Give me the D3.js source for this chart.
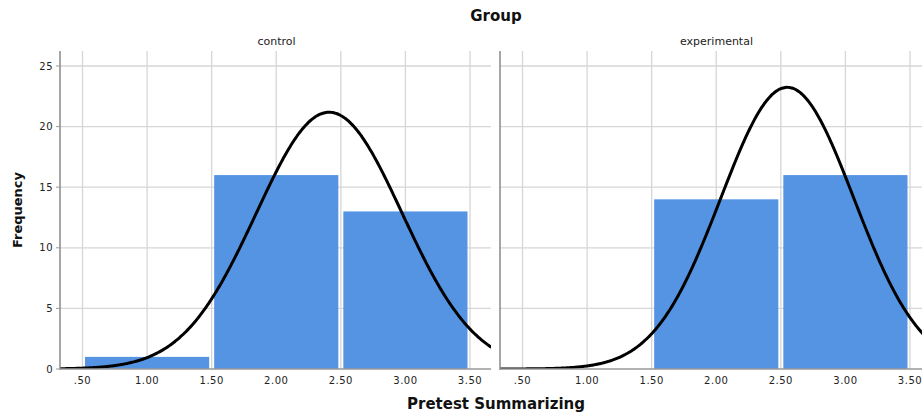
<!DOCTYPE html>
<html>
<head>
<meta charset="utf-8">
<script src="https://cdn.jsdelivr.net/npm/d3@7"></script>
<style>
  html, body { margin: 0; padding: 0; background: #fff; overflow: hidden; }
  svg { display: block; font-family: "DejaVu Sans", Verdana, sans-serif; }
</style>
</head>
<body>
<div id="chart"></div>
<script>
// data
const groups = ['control', 'experimental']
const binStarts = [0.5, 1.5, 2.5]
const controlCounts = [1, 16, 13]
const experimentalCounts = [0, 14, 16]
const xTicks = [0.5, 1, 1.5, 2, 2.5, 3, 3.5]
const yTicks = [0, 5, 10, 15, 20, 25]
// normal curve fit per group: mean, sd, n
const controlFit = { mean: 2.41, sd: 0.565, n: 30 }
const experimentalFit = { mean: 2.55, sd: 0.515, n: 30 }

const counts = { control: controlCounts, experimental: experimentalCounts }
const fits = { control: controlFit, experimental: experimentalFit }

const W = 922, H = 412
const panelTop = 51, panelBottom = 369
const panels = [
  { name: 'control', left: 60, right: 491 },
  { name: 'experimental', left: 500, right: 931 },
]
const binWidth = 1

const svg = d3.select('#chart').append('svg')
  .attr('width', W).attr('height', H)

const y = d3.scaleLinear().domain([0, 25]).range([panelBottom, 66])

svg.append('text')
  .attr('x', 496).attr('y', 21)
  .attr('text-anchor', 'middle')
  .attr('font-size', '15px').attr('font-weight', 'bold').attr('fill', '#111')
  .text('Group')

svg.append('text')
  .attr('transform', `translate(22,${(panelTop + panelBottom) / 2}) rotate(-90)`)
  .attr('text-anchor', 'middle')
  .attr('font-size', '13px').attr('font-weight', 'bold').attr('fill', '#111')
  .text('Frequency')

svg.append('text')
  .attr('x', 496).attr('y', 409)
  .attr('text-anchor', 'middle')
  .attr('font-size', '15px').attr('font-weight', 'bold').attr('fill', '#111')
  .text('Pretest Summarizing')

const fmt = v => v < 1 ? d3.format('.2f')(v).replace(/^0/, '') : d3.format('.2f')(v)

panels.forEach(p => {
  const x = d3.scaleLinear().domain([0.5, 3.5]).range([p.left + 22.5, p.left + 410])
  const g = svg.append('g')
  const clipId = 'clip-' + p.name
  svg.append('defs').append('clipPath').attr('id', clipId)
    .append('rect').attr('x', p.left).attr('y', panelTop)
    .attr('width', p.right - p.left).attr('height', panelBottom - panelTop)

  // facet header
  g.append('text')
    .attr('x', (p.left + p.right) / 2 + 1).attr('y', 45)
    .attr('text-anchor', 'middle')
    .attr('font-size', '11px').attr('fill', '#222')
    .text(p.name)

  // gridlines
  g.append('g').selectAll('line').data(yTicks.slice(1)).join('line')
    .attr('x1', p.left).attr('x2', p.right)
    .attr('y1', d => y(d)).attr('y2', d => y(d))
    .attr('stroke', '#d6d6d6').attr('stroke-width', 1.3)
  g.append('g').selectAll('line').data(xTicks).join('line')
    .attr('x1', d => x(d)).attr('x2', d => x(d))
    .attr('y1', panelTop).attr('y2', panelBottom)
    .attr('stroke', '#d6d6d6').attr('stroke-width', 1.3)

  // bars
  g.append('g').selectAll('rect').data(binStarts.map((b, i) => ({ b, c: counts[p.name][i] })).filter(d => d.c > 0))
    .join('rect')
    .attr('x', d => x(d.b) + 2.5)
    .attr('width', d => x(d.b + binWidth) - x(d.b) - 5)
    .attr('y', d => y(d.c))
    .attr('height', d => y(0) - y(d.c))
    .attr('fill', '#5594e3')

  // normal curve
  const f = fits[p.name]
  const dom = [x.invert(p.left), x.invert(p.right)]
  const pts = d3.range(dom[0], dom[1] + 0.005, 0.01).map(v => {
    const z = (v - f.mean) / f.sd
    return [v, f.n * binWidth * Math.exp(-z * z / 2) / (f.sd * Math.sqrt(2 * Math.PI))]
  })
  g.append('path')
    .datum(pts)
    .attr('clip-path', `url(#${clipId})`)
    .attr('d', d3.line().x(d => x(d[0])).y(d => y(d[1])).curve(d3.curveBasis))
    .attr('fill', 'none').attr('stroke', '#000').attr('stroke-width', 3)

  // axes lines
  g.append('line')
    .attr('x1', p.left).attr('x2', p.left)
    .attr('y1', panelTop).attr('y2', panelBottom + 1)
    .attr('stroke', '#888').attr('stroke-width', 1.5)
  g.append('line')
    .attr('x1', p.left).attr('x2', p.right)
    .attr('y1', panelBottom).attr('y2', panelBottom)
    .attr('stroke', '#999').attr('stroke-width', 1.5)

  // x tick labels
  g.append('g').selectAll('text').data(xTicks).join('text')
    .attr('x', d => x(d)).attr('y', 384)
    .attr('text-anchor', 'middle')
    .attr('font-size', '10px').attr('letter-spacing', '0.5px').attr('fill', '#222')
    .text(fmt)
})

// y tick labels (left panel only)
svg.append('g').selectAll('text').data(yTicks).join('text')
  .attr('x', 53).attr('y', d => y(d) + 3.5)
  .attr('text-anchor', 'end')
  .attr('font-size', '10px').attr('letter-spacing', '0.5px').attr('fill', '#222')
  .text(d => d)
svg.append('g').selectAll('line').data(yTicks).join('line')
  .attr('x1', 56).attr('x2', 60)
  .attr('y1', d => y(d)).attr('y2', d => y(d))
  .attr('stroke', '#999')
</script>
</body>
</html>
